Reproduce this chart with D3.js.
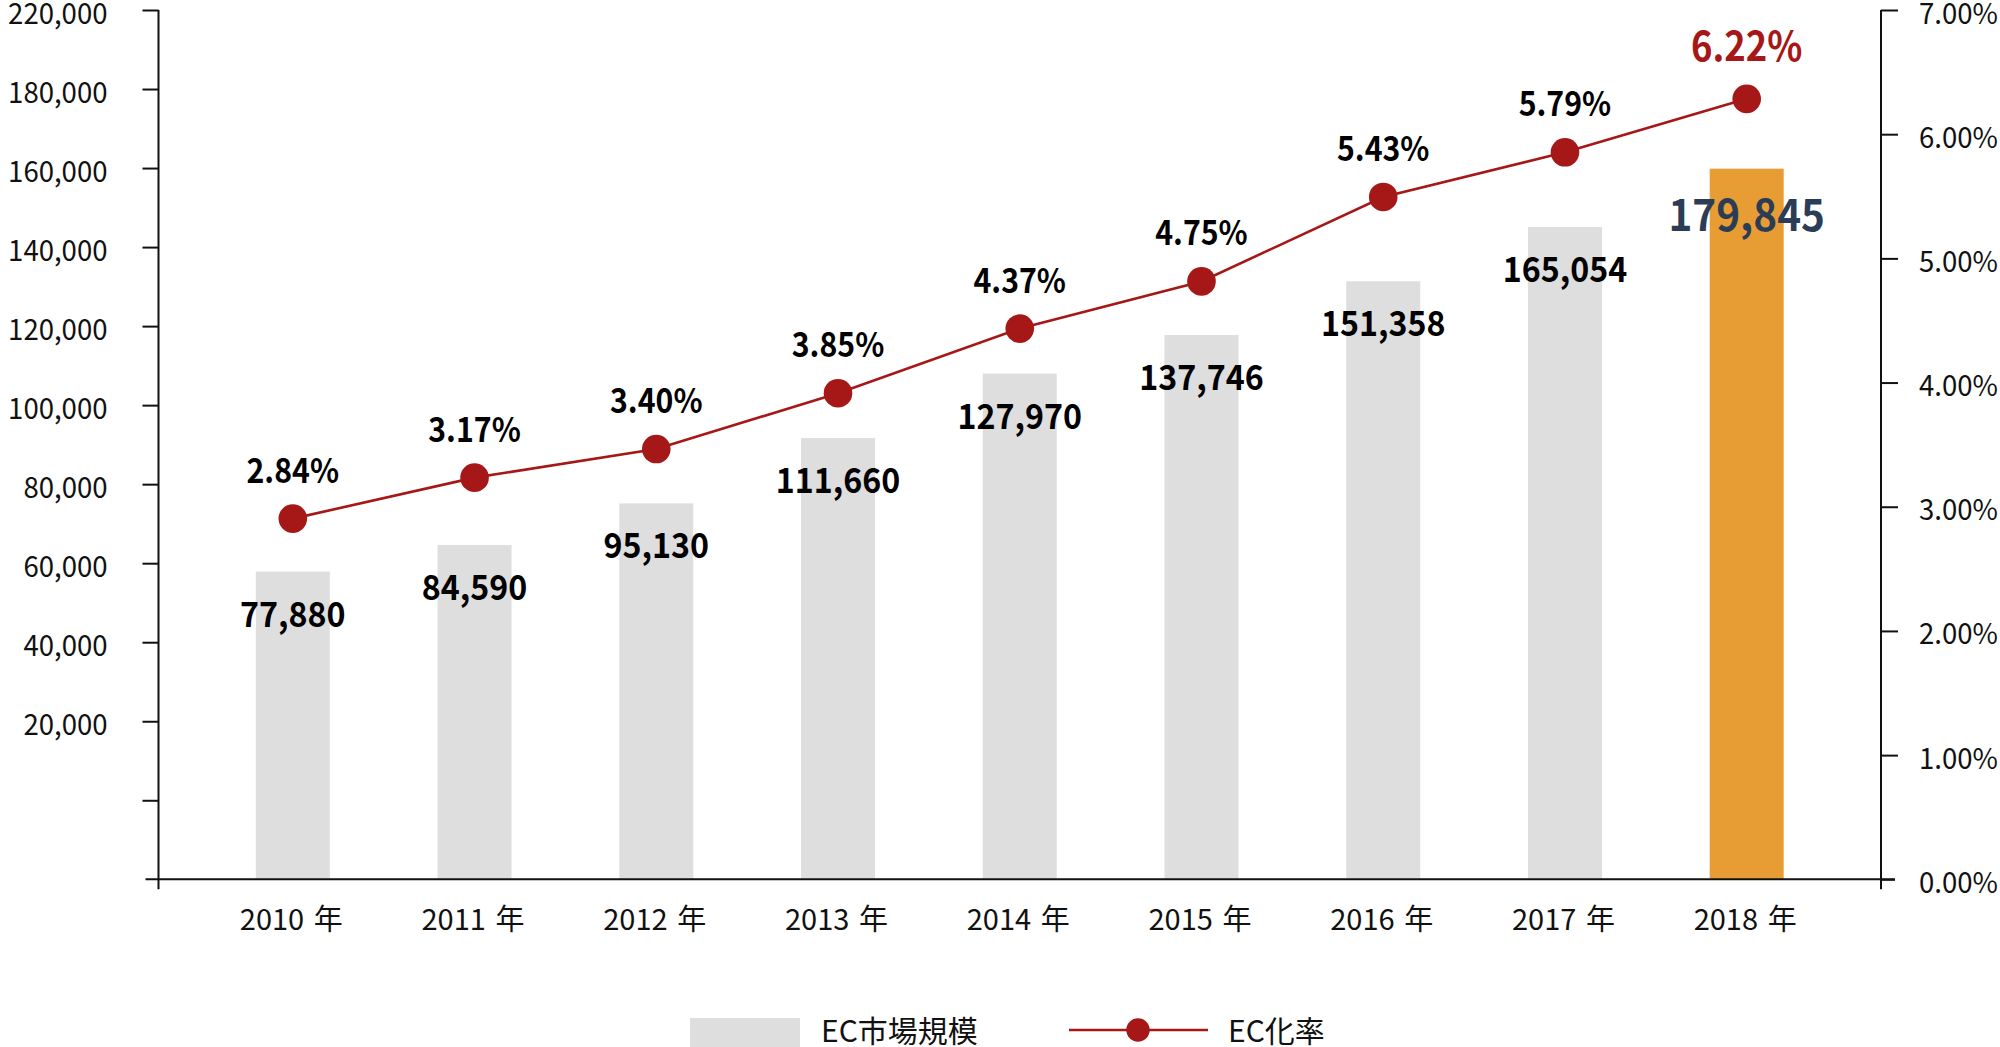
<!DOCTYPE html>
<html>
<head>
<meta charset="utf-8">
<script src="https://cdn.jsdelivr.net/npm/d3@7"></script>
<style>
  html, body { margin: 0; padding: 0; background: #ffffff; }
  svg { display: block; }
  text { font-family: "Noto Sans CJK JP", "Noto Sans", sans-serif; }
</style>
</head>
<body>
<svg id="chart" width="2000" height="1047"></svg>
<script>
// ---- data ----
const years = ["2010 年", "2011 年", "2012 年", "2013 年", "2014 年", "2015 年", "2016 年", "2017 年", "2018 年"];
const marketSize = [77880, 84590, 95130, 111660, 127970, 137746, 151358, 165054, 179845];
const ecRate = [2.84, 3.17, 3.40, 3.85, 4.37, 4.75, 5.43, 5.79, 6.22];
const leftTickValues = [0, 20000, 40000, 60000, 80000, 100000, 120000, 140000, 160000, 180000, 200000, 220000];
const leftTickLabels = ["", "", "20,000", "40,000", "60,000", "80,000", "100,000", "120,000", "140,000", "160,000", "180,000", "220,000"];
const rightTickValues = [0, 1, 2, 3, 4, 5, 6, 7];
const legendLabels = ["EC市場規模", "EC化率"];

// ---- layout ----
const svg = d3.select("#chart");
const X0 = 158.5, X1 = 1881, Y0 = 879.3, Y1 = 10;
const lineShift = 8;
const barColor = "#dedede", hiColor = "#e89d34", lineColor = "#a61717";

function squeeze(sel, f) {
  sel.each(function () {
    const L = this.getComputedTextLength();
    d3.select(this).attr("textLength", L * f).attr("lengthAdjust", "spacingAndGlyphs");
  });
}

const x = d3.scalePoint().domain(years).range([X0, X1]).padding(0.739);
const yL = d3.scaleLinear().domain([0, 220000]).range([Y0, Y1]);
const yR = d3.scaleLinear().domain([0, 7]).range([Y0, Y1]);
const yLine = d3.scaleLinear().domain([0, 7]).range([Y0 - lineShift, Y1 - lineShift]);
const barW = 74;
const last = years.length - 1;

// bars
svg.append("g").selectAll("rect").data(marketSize).join("rect")
  .attr("x", (d, i) => x(years[i]) - barW / 2)
  .attr("y", d => yL(d))
  .attr("width", barW)
  .attr("height", d => yL(0) - yL(d))
  .attr("fill", (d, i) => i === last ? hiColor : barColor);

// axes
const axisL = d3.axisLeft(yL).tickValues(leftTickValues)
  .tickFormat((d, i) => leftTickLabels[i]).tickSizeOuter(0).tickSize(16).tickPadding(35);
const gL = svg.append("g").attr("transform", `translate(${X0},0)`).call(axisL);
const axisR = d3.axisRight(yR).tickValues(rightTickValues)
  .tickFormat(d => d.toFixed(2) + "%").tickSizeOuter(0).tickSize(17).tickPadding(21);
const gR = svg.append("g").attr("transform", `translate(${X1},0)`).call(axisR);
[gL, gR].forEach(g => {
  g.select(".domain").remove();
  g.selectAll(".tick line").attr("stroke", "#111").attr("stroke-width", 2);
  g.selectAll(".tick text").attr("fill", "#111").attr("font-size", 29).attr("dy", "0.45em");
  squeeze(g.selectAll(".tick text"), 0.95);
});
gL.selectAll(".tick").filter(d => d === 0).select("line").remove();
gR.selectAll(".tick").filter(d => d === 0).select("line").attr("x2", 14);
svg.append("line").attr("x1", X0).attr("x2", X0).attr("y1", Y1).attr("y2", Y0 + 10)
  .attr("stroke", "#111").attr("stroke-width", 2);
svg.append("line").attr("x1", X1).attr("x2", X1).attr("y1", Y1).attr("y2", Y0 + 10)
  .attr("stroke", "#111").attr("stroke-width", 2);
svg.append("line").attr("x1", X0 - 13).attr("x2", X1 + 14).attr("y1", Y0).attr("y2", Y0)
  .attr("stroke", "#111").attr("stroke-width", 2);

// x labels
const axisB = d3.axisBottom(x).tickSize(0).tickPadding(30).tickFormat(d => d.replace(" ", "\u2004"));
const gB = svg.append("g").attr("transform", `translate(0,${Y0})`).call(axisB);
gB.select(".domain").remove();
gB.selectAll(".tick text").attr("fill", "#111").attr("font-size", 29).attr("dy", "0.71em")
  .attr("dx", -2);

// bar value labels
const vLabels = svg.append("g").selectAll("text").data(marketSize).join("text")
  .attr("x", (d, i) => x(years[i]))
  .attr("y", (d, i) => yL(d) + (i === last ? 62 : 55))
  .attr("text-anchor", "middle")
  .attr("font-weight", 700)
  .attr("font-size", (d, i) => i === last ? 44 : 35)
  .attr("fill", (d, i) => i === last ? "#2b3d56" : "#000")
  .text(d => d3.format(",")(d));
squeeze(vLabels, 0.92);

// line
const line = d3.line().x((d, i) => x(years[i])).y(d => yLine(d));
svg.append("path").datum(ecRate).attr("d", line)
  .attr("fill", "none").attr("stroke", lineColor).attr("stroke-width", 2.6);
svg.append("g").selectAll("circle").data(ecRate).join("circle")
  .attr("cx", (d, i) => x(years[i])).attr("cy", d => yLine(d)).attr("r", 14.3)
  .attr("fill", lineColor);

// rate labels
const rLabels = svg.append("g").selectAll("text").data(ecRate).join("text")
  .attr("x", (d, i) => x(years[i]))
  .attr("y", (d, i) => yLine(d) - (i === last ? 38 : 36))
  .attr("text-anchor", "middle")
  .attr("font-weight", 700)
  .attr("font-size", (d, i) => i === last ? 41 : 34)
  .attr("fill", (d, i) => i === last ? lineColor : "#000")
  .text(d => d.toFixed(2) + "%");
squeeze(rLabels, 0.89);

// legend
const lg = svg.append("g");
lg.append("rect").attr("x", 690).attr("y", 1018).attr("width", 110).attr("height", 30).attr("fill", barColor);
lg.append("text").attr("x", 821).attr("y", 1042).attr("font-size", 30).attr("fill", "#111").text(legendLabels[0]);
lg.append("line").attr("x1", 1069).attr("x2", 1208).attr("y1", 1030).attr("y2", 1030)
  .attr("stroke", lineColor).attr("stroke-width", 2.6);
lg.append("circle").attr("cx", 1138).attr("cy", 1030).attr("r", 11.7).attr("fill", lineColor);
lg.append("text").attr("x", 1228).attr("y", 1042).attr("font-size", 30).attr("fill", "#111").text(legendLabels[1]);
</script>
</body>
</html>
